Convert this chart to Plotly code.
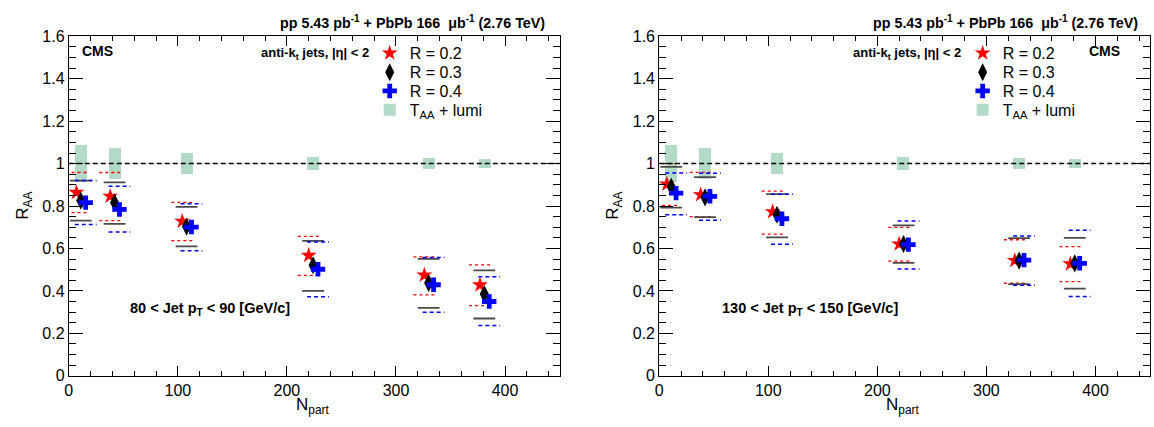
import plotly.graph_objects as go

# ---------------- data ----------------
npart = [11, 42, 108, 224, 330, 381]
taa_err = [0.088, 0.074, 0.05, 0.03, 0.025, 0.022]
y_ticks = [0, 0.2, 0.4, 0.6, 0.8, 1.0, 1.2, 1.4, 1.6]
y_ticklabels = ["0", "0.2", "0.4", "0.6", "0.8", "1", "1.2", "1.4", "1.6"]
x_ticks = [0, 100, 200, 300, 400]
x_ticklabels = ["0", "100", "200", "300", "400"]

# left panel: 80 < Jet pT < 90
l_r2 = [0.864, 0.846, 0.728, 0.567, 0.474, 0.428]
l_r2_hi = [0.958, 0.958, 0.817, 0.657, 0.560, 0.523]
l_r2_lo = [0.769, 0.731, 0.637, 0.473, 0.381, 0.331]
l_r3 = [0.826, 0.816, 0.703, 0.521, 0.437, 0.385]
l_r3_hi = [0.920, 0.912, 0.796, 0.636, 0.551, 0.497]
l_r3_lo = [0.731, 0.716, 0.610, 0.400, 0.320, 0.270]
l_r4 = [0.816, 0.784, 0.701, 0.502, 0.429, 0.350]
l_r4_hi = [0.920, 0.893, 0.811, 0.631, 0.557, 0.467]
l_r4_lo = [0.713, 0.678, 0.589, 0.372, 0.299, 0.237]

# right panel: 130 < Jet pT < 150
r_r2 = [0.903, 0.853, 0.773, 0.621, 0.543, 0.527]
r_r2_hi = [1.000, 0.959, 0.870, 0.699, 0.641, 0.609]
r_r2_lo = [0.803, 0.750, 0.668, 0.540, 0.436, 0.444]
r_r3 = [0.891, 0.841, 0.759, 0.621, 0.543, 0.530]
r_r3_hi = [0.985, 0.936, 0.856, 0.709, 0.649, 0.650]
r_r3_lo = [0.793, 0.748, 0.652, 0.532, 0.432, 0.411]
r_r4 = [0.861, 0.846, 0.740, 0.618, 0.545, 0.530]
r_r4_hi = [0.956, 0.955, 0.856, 0.729, 0.659, 0.686]
r_r4_lo = [0.759, 0.733, 0.620, 0.503, 0.427, 0.374]

# ---------------- helpers ----------------
W, H = 1154, 427
FONT = "Liberation Sans, Arial, Helvetica, sans-serif"
OFF = {"r2": -4.0, "r3": 0.0, "r4": 4.5}
HALF = 10
BOX_W = 11


def px(x):
    return x / W


def py(y):
    return 1 - y / H


def segs(xs, his, los, off):
    X, Y = [], []
    for x, hi, lo in zip(xs, his, los):
        X += [x + off - HALF, x + off + HALF, None, x + off - HALF, x + off + HALF, None]
        Y += [hi, hi, None, lo, lo, None]
    return X, Y


fig = go.Figure()

panels = [
    ("x", "y", ["legend", "legend2", "legend3", "legend4"],
     [(l_r2, l_r2_hi, l_r2_lo), (l_r3, l_r3_hi, l_r3_lo), (l_r4, l_r4_hi, l_r4_lo)]),
    ("x2", "y2", ["legend5", "legend6", "legend7", "legend8"],
     [(r_r2, r_r2_hi, r_r2_lo), (r_r3, r_r3_hi, r_r3_lo), (r_r4, r_r4_hi, r_r4_lo)]),
]

styles = [
    ("r2", "R = 0.2", dict(color="red", width=1.3, dash="dot"), dict(symbol="star", size=12, color="red")),
    ("r3", "R = 0.3", dict(color="#4a4a4a", width=1.8), dict(symbol="diamond-tall", size=13, color="black")),
    ("r4", "R = 0.4", dict(color="blue", width=1.5, dash="4px,3px"), dict(symbol="cross", size=12, color="blue")),
]

for xa, ya, legs, series in panels:
    # TAA + lumi boxes
    fig.add_trace(go.Bar(x=npart, y=[2 * e for e in taa_err], base=[1 - e for e in taa_err],
                         width=BOX_W, marker=dict(color="#b2dac6", line=dict(width=0)),
                         xaxis=xa, yaxis=ya, name="T<sub>AA</sub> + lumi", legend=legs[3],
                         hoverinfo="skip"))
    # systematic bands (top/bottom edges)
    for (key, name, lst, mst), (vals, hi, lo) in zip(styles, series):
        X, Y = segs(npart, hi, lo, OFF[key])
        fig.add_trace(go.Scatter(x=X, y=Y, mode="lines", line=lst, xaxis=xa, yaxis=ya,
                                 showlegend=False, hoverinfo="skip"))
    # points
    for i, ((key, name, lst, mst), (vals, hi, lo)) in enumerate(zip(styles, series)):
        fig.add_trace(go.Scatter(x=[n + OFF[key] for n in npart], y=vals, mode="markers",
                                 marker=dict(line=dict(width=0), **mst), name=name,
                                 xaxis=xa, yaxis=ya, legend=legs[i]))

axis_common = dict(showgrid=False, zeroline=False, showline=True, linecolor="black", linewidth=1,
                   mirror="ticks", ticks="inside", tickcolor="black", tickwidth=1,
                   tickfont=dict(family=FONT, size=16, color="black"))

xdoms = [[px(65), px(557.5)], [px(657.5), px(1150)]]
ydom = [py(383), py(29.5)]

layout = dict(
    width=W, height=H, margin=dict(l=0, r=0, t=0, b=0),
    paper_bgcolor="white", plot_bgcolor="white",
    font=dict(family=FONT, color="black"),
    showlegend=True, bargap=0,
)
for i, (xk, yk) in enumerate([("xaxis", "yaxis"), ("xaxis2", "yaxis2")]):
    layout[xk] = dict(axis_common, domain=xdoms[i], range=[0, 450], tickvals=x_ticks,
                      ticktext=x_ticklabels, ticklen=10,
                      minor=dict(dtick=20, tick0=0, ticks="inside", ticklen=5, tickcolor="black"),
                      anchor="y" if i == 0 else "y2")
    layout[yk] = dict(axis_common, domain=ydom, range=[0, 1.6], tickvals=y_ticks,
                      ticktext=y_ticklabels, ticklen=14,
                      minor=dict(dtick=0.05, tick0=0, ticks="inside", ticklen=7, tickcolor="black"),
                      anchor="x" if i == 0 else "x2")

leg_common = dict(font=dict(family=FONT, size=16, color="black"), bgcolor="rgba(0,0,0,0)",
                  borderwidth=0, xanchor="left", yanchor="middle", itemwidth=30)
rows = [47, 67, 86.5, 106]
leg_x = [367, 962]
for p, (xa, ya, legs, series) in enumerate(panels):
    for r, lg in enumerate(legs):
        layout[lg] = dict(leg_common, x=px(leg_x[p]), y=py(rows[r]))
fig.update_layout(**layout)

# dashed unity line
for xa, ya in [("x", "y"), ("x2", "y2")]:
    fig.add_shape(type="line", xref=xa, yref=ya, x0=0, x1=450, y0=1, y1=1,
                  line=dict(color="black", width=1.5, dash="5px,3px"))

bold13 = dict(family=FONT, size=13, color="black")
ann = []
# headers
for xr in [545, 1140]:
    ann.append(dict(text="<b>pp 5.43 pb<sup>-1</sup> + PbPb 166  \u03bcb<sup>-1</sup> (2.76 TeV)</b>",
                    x=px(xr), y=py(15), xanchor="right", yanchor="middle",
                    font=dict(family=FONT, size=14.3, color="black")))
# CMS
ann.append(dict(text="<b>CMS</b>", x=px(76), y=py(45), xanchor="left", yanchor="middle",
                font=dict(family=FONT, size=14, color="black")))
ann.append(dict(text="<b>CMS</b>", x=px(1122), y=py(45), xanchor="right", yanchor="middle",
                font=dict(family=FONT, size=14, color="black")))
# jet algo
for xr in [368, 962]:
    ann.append(dict(text="<b>anti-k<sub>t</sub> jets, |\u03b7| &lt; 2</b>", x=px(xr), y=py(47),
                    xanchor="right", yanchor="middle", font=bold13))
# pT ranges
ann.append(dict(text="<b>80 &lt; Jet p<sub>T</sub> &lt; 90 [GeV/c]</b>", x=px(124), y=py(313),
                xanchor="left", yanchor="middle", font=dict(family=FONT, size=14.5, color="black")))
ann.append(dict(text="<b>130 &lt; Jet p<sub>T</sub> &lt; 150 [GeV/c]</b>", x=px(718), y=py(314),
                xanchor="left", yanchor="middle", font=dict(family=FONT, size=14.5, color="black")))
# axis titles
for xc in [310, 902]:
    ann.append(dict(text="N<sub>part</sub>", x=px(xc), y=py(414), xanchor="center", yanchor="middle",
                    font=dict(family=FONT, size=17, color="black")))
for xc in [20, 612]:
    ann.append(dict(text="R<sub>AA</sub>", x=px(xc), y=py(206), xanchor="center", yanchor="middle",
                    textangle=-90, font=dict(family=FONT, size=17, color="black")))
for a in ann:
    a.update(xref="paper", yref="paper", showarrow=False)
fig.update_layout(annotations=ann)

fig.write_html("out.html", config={"displayModeBar": False},
               post_script="document.body.style.margin='0px';document.body.style.overflow='hidden';")
